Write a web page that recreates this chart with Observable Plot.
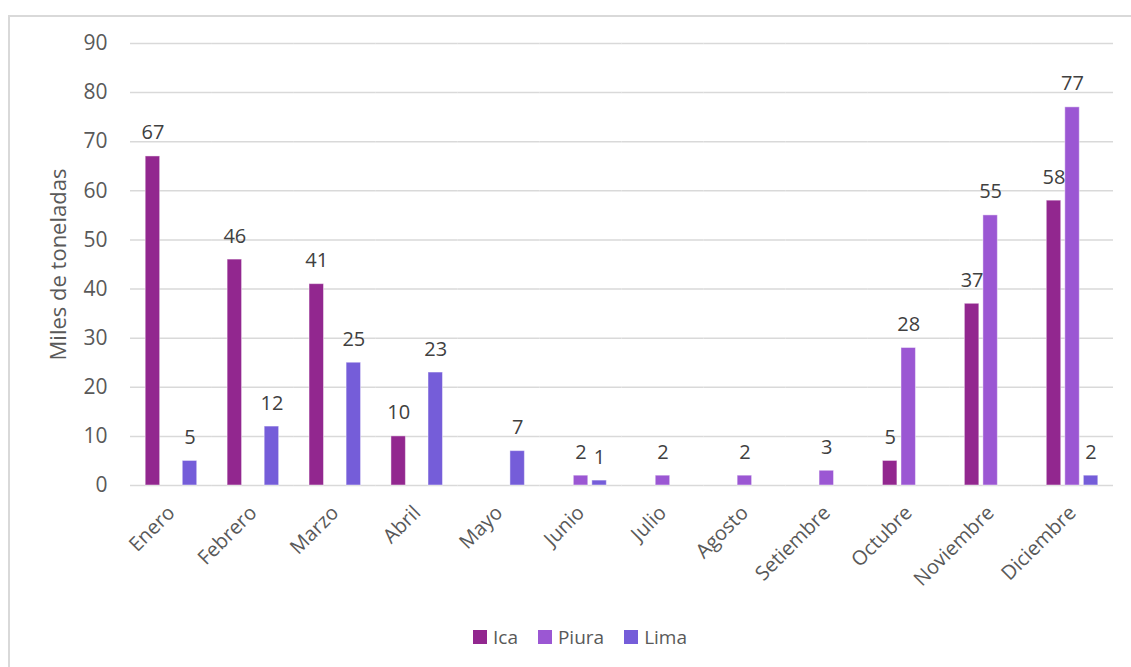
<!DOCTYPE html>
<html>
<head>
<meta charset="utf-8">
<script src="https://cdn.jsdelivr.net/npm/d3@7"></script>
<script src="https://cdn.jsdelivr.net/npm/@observablehq/plot@0.6"></script>
<style>
  html, body { margin: 0; padding: 0; background: #fff; overflow: hidden; }
  body { width: 1131px; height: 667px; position: relative; font-family: "Open Sans", sans-serif; }
  #frame { position: absolute; left: 8px; top: 15px; width: 1140px; height: 700px; border: 2px solid #d9d9d9; box-sizing: border-box; }
  #chart { position: absolute; left: 0; top: 0; }
  #legend { position: absolute; left: 0; width: 1160px; top: 624px; display: flex; justify-content: center; gap: 20px; font-size: 19px; color: #595959; }
  .item { display: flex; align-items: center; gap: 6px; }
  .sw { width: 14px; height: 14px; display: inline-block; }
</style>
</head>
<body>
<div id="frame"></div>
<div id="chart"></div>
<div id="legend"></div>
<script>
// Monthly volumes by region, thousands of tonnes (null = no shipments)
const months = ["Enero", "Febrero", "Marzo", "Abril", "Mayo", "Junio", "Julio", "Agosto", "Setiembre", "Octubre", "Noviembre", "Diciembre"];
const series = ["Ica", "Piura", "Lima"];
const ica   = [67, 46, 41, 10, null, null, null, null, null, 5, 37, 58];
const piura = [null, null, null, null, null, 2, 2, 2, 3, 28, 55, 77];
const lima  = [5, 12, 25, 23, 7, 1, null, null, null, null, null, 2];
const colors = ["#92278F", "#9B57D3", "#755DD9"];
const yTicks = [0, 10, 20, 30, 40, 50, 60, 70, 80, 90];

const values = {Ica: ica, Piura: piura, Lima: lima};
const data = [];
months.forEach((m, i) => {
  series.forEach(s => {
    const v = values[s][i];
    if (v != null) data.push({month: m, series: s, value: v});
  });
});

const chart = Plot.plot({
  width: 1131,
  height: 600,
  marginLeft: 130,
  marginRight: 18,
  marginTop: 43,
  marginBottom: 115,
  style: {fontFamily: "Open Sans, sans-serif", fontSize: "20px", color: "#595959", background: "transparent"},
  fx: {domain: months, padding: 0, round: false, label: null},
  x: {domain: series, paddingInner: 0.22, paddingOuter: 0.82, round: false, axis: null},
  y: {domain: [0, 90], label: null},
  color: {domain: series, range: colors},
  marks: [
    Plot.gridY(yTicks, {stroke: "#d9d9d9", strokeOpacity: 1, strokeWidth: 1.5}),
    Plot.axisY(yTicks, {tickSize: 0, tickPadding: 23, fill: "#595959", fontSize: 21, label: null}),
    Plot.axisY(yTicks, {tickSize: 0, text: null, fill: "#595959", fontSize: 22, label: "Miles de toneladas", labelAnchor: "center", labelArrow: "none", labelOffset: 80}),
    Plot.axisFx({anchor: "bottom", tickRotate: -45, tickSize: 0, tickPadding: 24, fill: "#595959", fontSize: 20, label: null}),
    Plot.barY(data, {fx: "month", x: "series", y: "value", fill: "series", stroke: "#ffffff", strokeOpacity: 0.45, strokeWidth: 1}),
    Plot.text(data, {fx: "month", x: "series", y: "value", text: d => String(d.value), lineAnchor: "bottom", dy: -17, fill: "#404040", fontSize: 20})
  ]
});
document.getElementById("chart").appendChild(chart);

const legend = document.getElementById("legend");
series.forEach((s, i) => {
  const item = document.createElement("span");
  item.className = "item";
  const sw = document.createElement("span");
  sw.className = "sw";
  sw.style.background = colors[i];
  item.appendChild(sw);
  item.appendChild(document.createTextNode(s));
  legend.appendChild(item);
});
</script>
</body>
</html>
